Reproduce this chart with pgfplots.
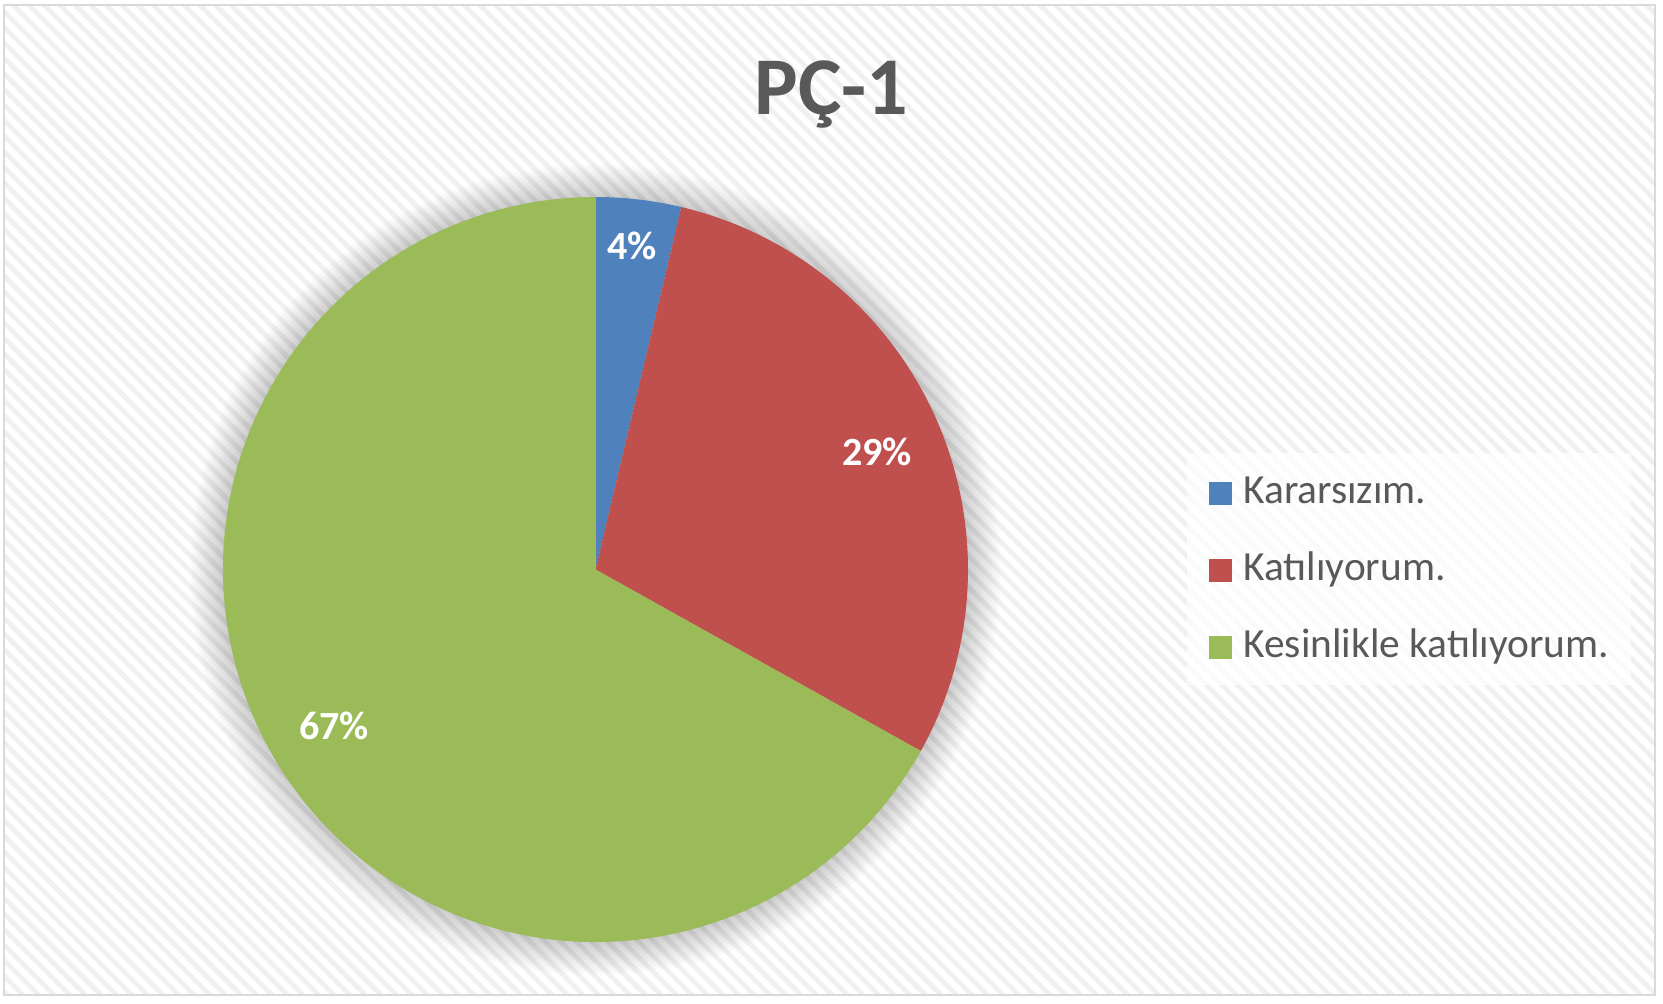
\documentclass[border=0pt]{standalone}
\usepackage{pgfplots}
\pgfplotsset{compat=1.18}
\usepackage{pgfplotstable}
\usetikzlibrary{patterns.meta}
\usepackage{fontspec}
\setmainfont{Carlito}
\definecolor{cBlue}{HTML}{4F81BD}
\definecolor{cRed}{HTML}{C0504D}
\definecolor{cGreen}{HTML}{9BBB59}
\definecolor{txt}{HTML}{595959}
\definecolor{frame}{HTML}{D9D9D9}

% slice values (percent)
\pgfplotstableread{
v
3.7
29.4
66.9
}\piedata
\pgfplotstablegetelem{0}{v}\of\piedata \let\va\pgfplotsretval
\pgfplotstablegetelem{1}{v}\of\piedata \let\vb\pgfplotsretval
\pgfplotstablegetelem{2}{v}\of\piedata \let\vc\pgfplotsretval
\pgfmathsetmacro\total{\va+\vb+\vc}
\pgfmathsetmacro\aB{90-360*\va/\total}
\pgfmathsetmacro\aC{\aB-360*\vb/\total}
\def\R{186.25pt}

\begin{document}
\begin{tikzpicture}
\begin{axis}[
  hide axis, scale only axis,
  width=831.5pt, height=501.5pt,
  xmin=0, xmax=1663, ymin=0, ymax=1003,
  clip=false, anchor=origin, at={(0,0)}]
  % background
  \fill[white] (axis cs:0,0) rectangle (axis cs:1663,1003);
  \fill[white] (axis cs:4,8) rectangle (axis cs:1655,998);
  \fill[pattern={Lines[angle=-45,distance=5.5pt,line width=2.4pt]}, pattern color=black!6]
     (axis cs:4,8) rectangle (axis cs:1655,998);
  \draw[frame, line width=1.1pt] (axis cs:4,8) rectangle (axis cs:1655,998);
  % title
  \node[anchor=base, font=\bfseries\fontsize{41}{44}\selectfont, text=txt]
     at (axis cs:831.5,888) {PÇ-1};
  % shadow halo
  \pgfplotsinvokeforeach{1,2,...,24}{
    \fill[black, opacity=0.009] (axis cs:595.5,433.5) circle[radius=186.25pt+0.7*#1pt];
  }
  % slices
  \fill[cBlue] (axis cs:595.5,433.5) -- +(90:\R) arc[start angle=90, end angle=\aB, radius=\R] -- cycle;
  \fill[cRed] (axis cs:595.5,433.5) -- +(\aB:\R) arc[start angle=\aB, end angle=\aC, radius=\R] -- cycle;
  \fill[cGreen] (axis cs:595.5,433.5) -- +(\aC:\R) arc[start angle=\aC, end angle=-270, radius=\R] -- cycle;
  % data labels
  \node[font=\bfseries\fontsize{20}{22}\selectfont, text=white] at (axis cs:632,757) {4\%};
  \node[font=\bfseries\fontsize{20}{22}\selectfont, text=white] at (axis cs:877,551) {29\%};
  \node[font=\bfseries\fontsize{20}{22}\selectfont, text=white] at (axis cs:334,277) {67\%};
  % legend
  \fill[white, opacity=0.7] (axis cs:1187,318) rectangle (axis cs:1631,550);
  \fill[cBlue]  (axis cs:1209,498.5) rectangle (axis cs:1232,521.5);
  \fill[cRed]   (axis cs:1209,421.5) rectangle (axis cs:1232,444.5);
  \fill[cGreen] (axis cs:1209,344.5) rectangle (axis cs:1232,367.5);
  \node[anchor=base west, inner sep=0pt, font=\fontsize{20.7}{22}\selectfont, text=txt] at (axis cs:1243,500) {Kararsızım.};
  \node[anchor=base west, inner sep=0pt, font=\fontsize{20.7}{22}\selectfont, text=txt] at (axis cs:1243,423) {Katılıyorum.};
  \node[anchor=base west, inner sep=0pt, font=\fontsize{20.7}{22}\selectfont, text=txt] at (axis cs:1243,346) {Kesinlikle katılıyorum.};
\end{axis}
\end{tikzpicture}
\end{document}
